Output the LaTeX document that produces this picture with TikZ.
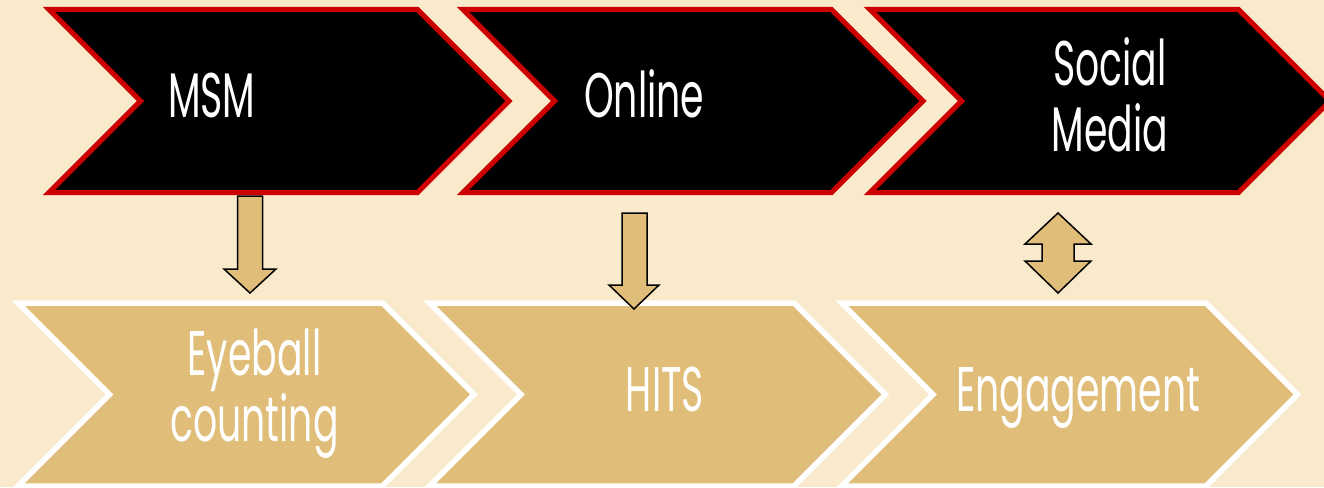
\documentclass[tikz,border=0pt]{standalone}
\usepackage{fontspec}
\setmainfont{Poppins}[FakeStretch=0.6]
\definecolor{bgcream}{HTML}{F9EACB}
\definecolor{tan}{HTML}{E0BD79}
\definecolor{chevred}{HTML}{CC0000}
\tikzset{
  topchev/.style={fill=black, draw=chevred, line width=5pt, miter limit=10, line join=miter},
  botchev/.style={fill=tan, draw=white, line width=5.5pt, miter limit=10, line join=miter},
  blockarrow/.style={fill=tan, draw=black, line width=1.5pt, line join=miter},
  lbl/.style={text=white, inner sep=0pt, font=\fontsize{63}{66}\selectfont, align=center},
}
\begin{document}
\begin{tikzpicture}[x=1pt,y=-1pt]
\useasboundingbox (0,0) rectangle (1324,487);
\fill[bgcream] (0,0) rectangle (1324,487);
\begin{scope}
\clip (0,0) rectangle (1324,487);
% top chevrons
\foreach \lx/\nm in {49/c1, 463/c2, 870/c3}{
  \draw[topchev] (\lx,9.5) -- ++(368.5,0) -- ++(91.5,91.5) -- ++(-91.5,91.5) -- ++(-368.5,0) -- ++(91.5,-91.5) -- cycle;
  \coordinate (\nm) at (\lx+91.5,101);
}
% bottom chevrons
\foreach \lx/\nm in {18/b1, 429.5/b2, 841.5/b3}{
  \draw[botchev] (\lx,303) -- ++(364.5,0) -- ++(91.5,91.5) -- ++(-91.5,91.5) -- ++(-364.5,0) -- ++(91.5,-91.5) -- cycle;
  \coordinate (\nm) at (\lx+91.5,394.5);
}
\end{scope}
% labels
\node[lbl, anchor=base west] (msm) at (168,117) {MSM};
\node[lbl, anchor=base west] (online) at (584,117) {Online};
\node[lbl, anchor=center] (social) at (1110,95) {Social\\Media};
\node[lbl, anchor=center] (eyeball) at (254.5,394) {Eyeball\\counting};
\node[lbl, anchor=base] (hits) at (665,411) {HITS};
\node[lbl, anchor=base] (engage) at (1078,411) {Engagement};
% block arrows
\draw[blockarrow] (237.5,196) -- (262.5,196) -- (262.5,269) -- (276,269) -- (250,293) -- (224,269) -- (237.5,269) -- cycle;
\draw[blockarrow] (622,213) -- (647,213) -- (647,285) -- (659,285) -- (634,309) -- (609,285) -- (622,285) -- cycle;
\draw[blockarrow] (1058,213) -- (1091,244) -- (1074,244) -- (1074,261) -- (1091,261) -- (1058,293) -- (1025,261) -- (1042,261) -- (1042,244) -- (1025,244) -- cycle;
\end{tikzpicture}
\end{document}
